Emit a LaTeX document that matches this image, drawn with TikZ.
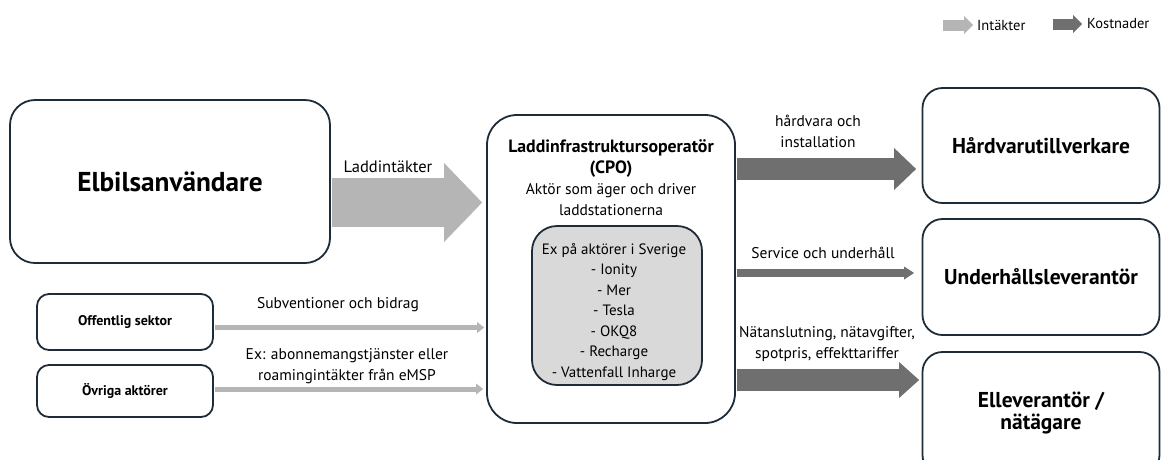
\documentclass[tikz,border=0pt]{standalone}
\usepackage{fontspec}
\setmainfont{PT Sans}
\usetikzlibrary{arrows.meta}
\definecolor{bordc}{HTML}{1E2C3A}
\definecolor{incc}{HTML}{B5B5B5}
\definecolor{costc}{HTML}{6F6F6F}
\definecolor{innerc}{HTML}{D9D9D9}
\begin{document}
\begin{tikzpicture}[x=1pt,y=-1pt,
  box/.style={draw=bordc, line width=1.8pt, rounded corners=#1, inner sep=0pt},
  lbl/.style={font=\fontsize{15.5}{21}\selectfont, align=center, inner sep=0pt},
  inc/.style={draw=incc, line cap=butt},
  cost/.style={draw=costc, line cap=butt},
  lgd/.style={font=\fontsize{14.5}{17}\selectfont, inner sep=0pt}]
\useasboundingbox (0,0) rectangle (1162,459);
\clip (0,0) rectangle (1162,459);
% boxes
\node[box=25pt, minimum width=320pt, minimum height=163pt, font=\fontsize{27.3}{34}\selectfont\bfseries] (elb) at (170,181.5) {Elbilsanvändare};
\node[box=30pt, minimum width=248pt, minimum height=308pt] (cpo) at (611,269) {};
\node[box=25pt, fill=innerc, minimum width=170pt, minimum height=159pt] (inner) at (617,305.5) {};
\node[lbl] (cpot) at (611,178) {\textbf{\fontsize{17.8}{21}\selectfont Laddinfrastruktursoperatör}\\\textbf{\fontsize{17.8}{21}\selectfont (CPO)}\\Aktör som äger och driver\\laddstationerna};
\node[lbl, font=\fontsize{15}{20.5}\selectfont] (exl) at (614,312) {Ex på aktörer i Sverige\\- Ionity\\- Mer\\- Tesla\\- OKQ8\\- Recharge\\- Vattenfall Inharge};
\node[box=20pt, minimum width=237pt, minimum height=115pt, font=\fontsize{21.5}{26}\selectfont\bfseries] (hw) at (1041,145.5) {Hårdvarutillverkare};
\node[box=20pt, minimum width=237pt, minimum height=116pt, font=\fontsize{21.5}{26}\selectfont\bfseries] (und) at (1041,277) {Underhållsleverantör};
\node[box=20pt, minimum width=237pt, minimum height=123pt, font=\fontsize{21.5}{22}\selectfont\bfseries, align=center] (el) at (1041,413.5) {Elleverantör /\\nätägare};
\node[box=12pt, minimum width=176pt, minimum height=56pt, font=\fontsize{14}{17}\selectfont\bfseries] (off) at (125,322) {Offentlig sektor};
\node[box=12pt, minimum width=176pt, minimum height=52pt, font=\fontsize{14}{17}\selectfont\bfseries] (ovr) at (125,391) {Övriga aktörer};
% arrows
\draw[inc, line width=49pt, -{Triangle[length=38pt,width=79pt,line width=0pt]}, shorten <=1pt, shorten >=4pt]
  ([yshift=-21pt]elb.east) -- ([yshift=-21pt]elb.east -| cpo.west);
\draw[inc, line width=5pt, -{Triangle[length=7pt,width=11pt,line width=0pt]}, shorten <=1pt, shorten >=2pt]
  ([yshift=-5.5pt]off.east) -- ([yshift=-5.5pt]off.east -| cpo.west);
\draw[inc, line width=5pt, -{Triangle[length=7pt,width=11pt,line width=0pt]}, shorten <=1pt, shorten >=3pt]
  ([yshift=2pt]ovr.east) -- ([yshift=2pt]ovr.east -| cpo.west);
\draw[cost, line width=22pt, -{Triangle[length=22pt,width=42pt,line width=0pt]}, shorten <=1pt, shorten >=5.5pt]
  ([yshift=100pt]cpo.east) -- ([yshift=100pt]cpo.east -| hw.west);
\draw[cost, line width=8pt, -{Triangle[length=10pt,width=13pt,line width=0pt]}, shorten <=1pt, shorten >=7.5pt]
  ([yshift=-4pt]cpo.east) -- ([yshift=-4pt]cpo.east -| und.west);
\draw[cost, line width=22pt, -{Triangle[length=20pt,width=36pt,line width=0pt]}, shorten <=1pt, shorten >=2.5pt]
  ([yshift=-111pt]cpo.east) -- ([yshift=-111pt]cpo.east -| el.west);
% labels
\node[lbl, font=\fontsize{16.5}{21}\selectfont] (l1) at (388,167) {Laddintäkter};
\node[lbl] (l2) at (818,131) {hårdvara och\\installation};
\node[lbl] (l3) at (823,253) {Service och underhåll};
\node[lbl] (l4) at (827,344) {Nätanslutning, nätavgifter,\\spotpris, effekttariffer};
\node[lbl] (l5) at (338,305) {Subventioner och bidrag};
\node[lbl] (l6) at (347,366) {Ex: abonnemangstjänster eller\\roamingintäkter från eMSP};
% legend
\node[lgd, anchor=west] (lint) at (977,25) {Intäkter};
\node[lgd, anchor=west] (lkos) at (1087,24) {Kostnader};
\draw[inc, line width=11pt, -{Triangle[length=9pt,width=18pt,line width=0pt]}] ([xshift=-34pt]lint.west) -- ([xshift=-4pt]lint.west);
\draw[cost, line width=11pt, -{Triangle[length=9pt,width=18pt,line width=0pt]}] ([xshift=-34pt]lkos.west) -- ([xshift=-5pt]lkos.west);
\end{tikzpicture}
\end{document}
